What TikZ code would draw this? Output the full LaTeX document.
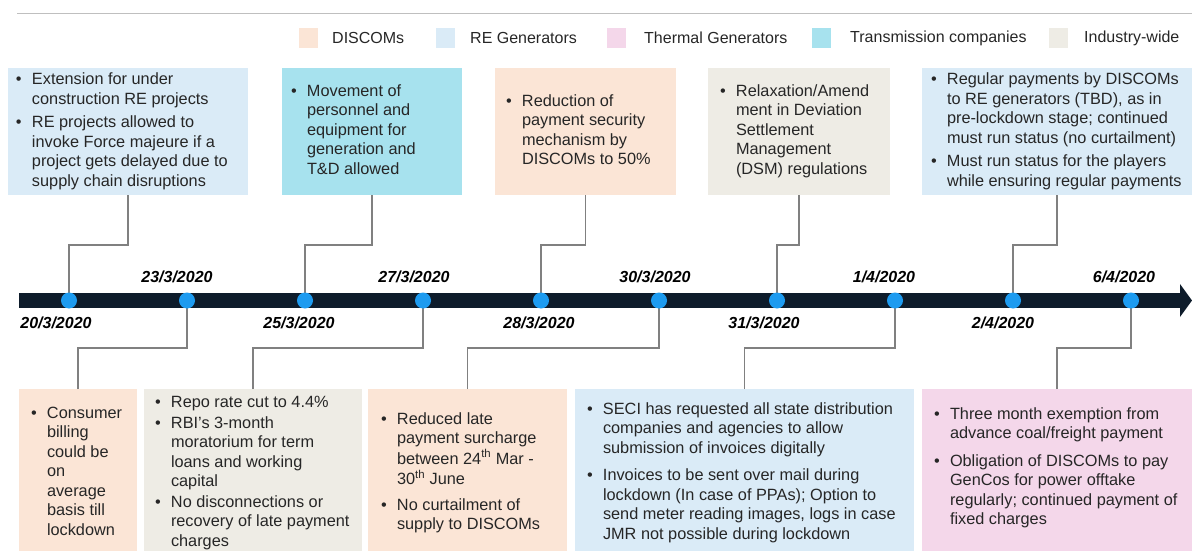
\documentclass[tikz,border=0pt]{standalone}
\usepackage{fontspec}
\setmainfont{Liberation Sans}
\usepackage{array}
\definecolor{cPeach}{HTML}{FBE5D6}
\definecolor{cBlue}{HTML}{DAEBF7}
\definecolor{cPink}{HTML}{F4D7EA}
\definecolor{cCyan}{HTML}{A7E2EE}
\definecolor{cBeige}{HTML}{EEECE5}
\definecolor{cBar}{HTML}{0E1C2B}
\definecolor{cDot}{HTML}{1D9BF0}
\definecolor{cLine}{HTML}{808080}
\definecolor{cTxt}{HTML}{262626}
\newcommand{\bitems}[1]{\begin{tabular}{@{}p{16pt}@{}l@{}}#1\end{tabular}}
\newcommand{\bu}{\textbullet}
\begin{document}
\begin{tikzpicture}[x=1pt,y=-1pt,
  box/.style={draw=none,inner sep=0pt,outer sep=0pt,anchor=north west},
  txt/.style={inner sep=0pt,outer sep=0pt,anchor=west,text=cTxt,font=\fontsize{16.3}{19.5}\selectfont},
  legtxt/.style={inner sep=0pt,anchor=west,text=cTxt,font=\fontsize{16}{19}\selectfont},
  swatch/.style={inner sep=0pt,minimum width=19pt,minimum height=20pt,anchor=north west},
  datelbl/.style={inner sep=0pt,text=black,font=\fontsize{16}{19}\selectfont\bfseries\itshape},
  dot/.style={circle,fill=cDot,draw=none,minimum size=16pt,inner sep=0pt},
  conn/.style={draw=cLine,line width=1.2pt}]
\useasboundingbox (0,0) rectangle (1192,551);
% top rule
\coordinate (r1) at (17,13.4);
\coordinate (r2) at (1192,13.4);
\draw[draw=black!25,line width=1.2pt] (r1) -- (r2);
% legend
\node[swatch,fill=cPeach] (s1) at (298.5,28) {};
\node[legtxt] (l1) at (332,38) {DISCOMs};
\node[swatch,fill=cBlue] (s2) at (436,28) {};
\node[legtxt] (l2) at (470,38) {RE Generators};
\node[swatch,fill=cPink] (s3) at (607,28) {};
\node[legtxt] (l3) at (644,38) {Thermal Generators};
\node[swatch,fill=cCyan] (s4) at (812,28) {};
\node[legtxt] (l4) at (850,38) {Transmission companies};
\node[swatch,fill=cBeige] (s5) at (1049,28) {};
\node[legtxt] (l5) at (1084,38) {Industry-wide};
% top boxes
\node[box,fill=cBlue,minimum width=240pt,minimum height=127pt] (T1) at (8,68) {};
\node[box,fill=cCyan,minimum width=180pt,minimum height=127pt] (T2) at (282,68) {};
\node[box,fill=cPeach,minimum width=181pt,minimum height=127pt] (T3) at (495,68) {};
\node[box,fill=cBeige,minimum width=182pt,minimum height=127pt] (T4) at (708,68) {};
\node[box,fill=cBlue,minimum width=270pt,minimum height=127pt] (T5) at (922,68) {};
\node[txt] (T1t) at (16,131.5) {\bitems{\bu & Extension for under\\ & construction RE projects\\[4pt]
 \bu & RE projects allowed to\\ & invoke Force majeure if a\\ & project gets delayed due to\\ & supply chain disruptions}};
\node[txt] (T2t) at (291,131.5) {\bitems{\bu & Movement of\\ & personnel and\\ & equipment for\\ & generation and\\ & T\&D allowed}};
\node[txt] (T3t) at (506,131.5) {\bitems{\bu & Reduction of\\ & payment security\\ & mechanism by\\ & DISCOMs to 50\%}};
\node[txt] (T4t) at (720,131.5) {\bitems{\bu & Relaxation/Amend\\ & ment in Deviation\\ & Settlement\\ & Management\\ & (DSM) regulations}};
\node[txt] (T5t) at (931,131.5) {\bitems{\bu & Regular payments by DISCOMs\\ & to RE generators (TBD), as in\\ & pre-lockdown stage; continued\\ & must run status (no curtailment)\\[4pt]
 \bu & Must run status for the players\\ & while ensuring regular payments}};
% bottom boxes
\node[box,fill=cPeach,minimum width=118pt,minimum height=162pt] (B1) at (19,389) {};
\node[box,fill=cBeige,minimum width=218pt,minimum height=162pt] (B2) at (144,389) {};
\node[box,fill=cPeach,minimum width=199pt,minimum height=162pt] (B3) at (368,389) {};
\node[box,fill=cBlue,minimum width=339pt,minimum height=162pt] (B4) at (575,389) {};
\node[box,fill=cPink,minimum width=270pt,minimum height=162pt] (B5) at (922,389) {};
\node[txt] (B1t) at (31,473) {\bitems{\bu & Consumer\\ & billing\\ & could be\\ & on\\ & average\\ & basis till\\ & lockdown}};
\node[txt] (B2t) at (155,473) {\bitems{\bu & Repo rate cut to 4.4\%\\[1pt]
 \bu & RBI's 3-month\\ & moratorium for term\\ & loans and working\\ & capital\\[1pt]
 \bu & No disconnections or\\ & recovery of late payment\\ & charges}};
\node[txt] (B3t) at (381,473) {\bitems{\bu & Reduced late\\ & payment surcharge\\ & between 24\textsuperscript{th} Mar -\\ & 30\textsuperscript{th} June\\[6pt]
 \bu & No curtailment of\\ & supply to DISCOMs}};
\node[txt] (B4t) at (587,473) {\bitems{\bu & SECI has requested all state distribution\\ & companies and agencies to allow\\ & submission of invoices digitally\\[8pt]
 \bu & Invoices to be sent over mail during\\ & lockdown (In case of PPAs); Option to\\ & send meter reading images, logs in case\\ & JMR not possible during lockdown}};
\node[txt] (B5t) at (934,468) {\bitems{\bu & Three month exemption from\\ & advance coal/freight payment\\[8pt]
 \bu & Obligation of DISCOMs to pay\\ & GenCos for power offtake\\ & regularly; continued payment of\\ & fixed charges}};
% timeline bar and arrow
\fill[cBar] (19,293) rectangle (1182,308);
\fill[cBar] (1180,284) -- (1192,300.5) -- (1180,317) -- cycle;
% dots (positions)
\coordinate (p1) at (69,300.5);
\coordinate (p2) at (187,300.5);
\coordinate (p3) at (305,300.5);
\coordinate (p4) at (423,300.5);
\coordinate (p5) at (541,300.5);
\coordinate (p6) at (659,300.5);
\coordinate (p7) at (777,300.5);
\coordinate (p8) at (895,300.5);
\coordinate (p9) at (1013,300.5);
\coordinate (p10) at (1131,300.5);
% connectors
\draw[conn] (T1.south) -- ++(0,50) -| (p1);
\draw[conn] (T2.south) -- ++(0,50) -| (p3);
\draw[conn] (T3.south) -- ++(0,50) -| (p5);
\draw[conn] (T4.south) -- ++(0,50) -| (p7);
\draw[conn] (T5.south) -- ++(0,50) -| (p9);
\draw[conn] (B1.north) -- ++(0,-41) -| (p2);
\draw[conn] (B2.north) -- ++(0,-41) -| (p4);
\draw[conn] (B3.north) -- ++(0,-41) -| (p6);
\draw[conn] (B4.north) -- ++(0,-41) -| (p8);
\draw[conn] (B5.north) -- ++(0,-41) -| (p10);
% dots
\foreach \i in {1,...,10} { \node[dot] (d\i) at (p\i) {}; }
% date labels
\node[datelbl] (t2) at (177,277) {23/3/2020};
\node[datelbl] (t4) at (414,277) {27/3/2020};
\node[datelbl] (t6) at (655,277) {30/3/2020};
\node[datelbl] (t8) at (884,277) {1/4/2020};
\node[datelbl] (t10) at (1124,277) {6/4/2020};
\node[datelbl] (t1) at (56,323) {20/3/2020};
\node[datelbl] (t3) at (299,323) {25/3/2020};
\node[datelbl] (t5) at (539,323) {28/3/2020};
\node[datelbl] (t7) at (764,323) {31/3/2020};
\node[datelbl] (t9) at (1003,323) {2/4/2020};
\end{tikzpicture}
\end{document}
